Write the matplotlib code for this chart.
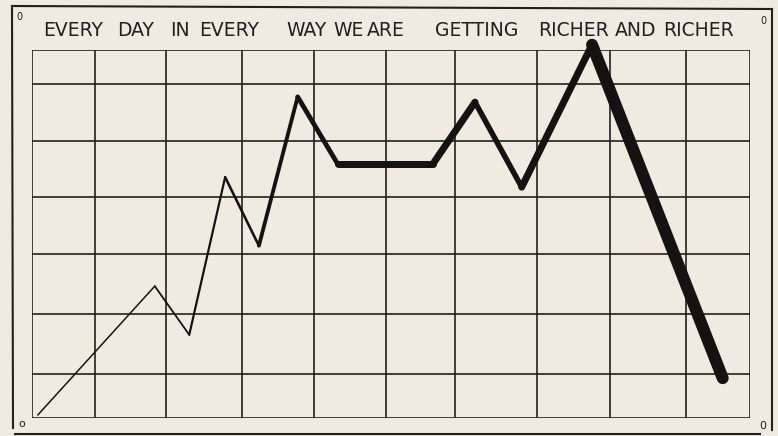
import numpy as np
import matplotlib.pyplot as plt

# data (x = days in grid columns, y = wealth in grid rows)
days = [0.08, 1.71, 2.19, 2.69, 3.16, 3.70, 4.26, 5.58, 6.17, 6.82, 7.80, 9.62]
wealth = [0.05, 2.25, 1.42, 4.11, 2.94, 5.48, 4.33, 4.33, 5.39, 3.94, 6.37, 0.68]
# pen gets heavier as we go (px)
widths = [1.5, 1.8, 2.2, 2.6, 3.8, 4.8, 7.0, 7.0, 5.5, 7.0, 12.0]

# hand drawn grid, not quite regular
grid_x = [0, 0.88, 1.86, 2.92, 3.93, 4.93, 5.89, 7.03, 8.05, 9.11, 10.0]
grid_y = [0, 0.75, 1.77, 2.80, 3.77, 4.73, 5.70, 6.28]

title_words = ['EVERY', 'DAY', 'IN', 'EVERY', 'WAY', 'WE', 'ARE',
               'GETTING', 'RICHER', 'AND', 'RICHER']
title_x = [43, 117, 170, 199, 286, 333, 367, 435, 538, 615, 663]

bg = '#f0ebe1'
ink = '#231f1d'
W, H = 778, 436

fig = plt.figure(figsize=(W / 100, H / 100), dpi=100, facecolor=bg)

# paper layer in pixel coords for the frame, title and corner marks
paper = fig.add_axes([0, 0, 1, 1], zorder=0)
paper.set_xlim(0, W)
paper.set_ylim(H, 0)
paper.axis('off')
paper.set_facecolor(bg)

paper.plot([12, 772], [6, 9], color=ink, lw=1.5)
paper.plot([12, 13], [6, 428], color=ink, lw=1.5)
paper.plot([772, 772], [9, 430], color=ink, lw=1.5)
paper.plot([15, 760], [434, 434], color=ink, lw=1.5)

for w, x in zip(title_words, title_x):
    paper.text(x, 31, w, fontsize=13.5, family='DejaVu Sans', color=ink,
               ha='left', va='center')

paper.text(19, 17, '0', fontsize=7, color=ink, ha='center', va='center')
paper.text(763, 21, '0', fontsize=7, color=ink, ha='center', va='center')
paper.text(22, 424, 'o', fontsize=8, color=ink, ha='center', va='center')
paper.text(763, 426, '0', fontsize=8, color=ink, ha='center', va='center')

# chart area
ax = fig.add_axes([32 / W, (H - 418) / H, (750 - 32) / W, (418 - 50) / H], zorder=1)
ax.set_xlim(0, 10)
ax.set_ylim(0, 6.28)
ax.patch.set_alpha(0)
for s in ax.spines.values():
    s.set_visible(False)
ax.set_xticks([])
ax.set_yticks([])

for gx in grid_x:
    ax.axvline(gx, color=ink, lw=1.2)
for gy in grid_y:
    ax.axhline(gy, color=ink, lw=1.2)

for i in range(len(days) - 1):
    ax.plot(days[i:i + 2], wealth[i:i + 2], color='#151312',
            lw=widths[i] * 0.72, solid_capstyle='round', clip_on=False)

fig.savefig('out.png', dpi=100, facecolor=bg)
